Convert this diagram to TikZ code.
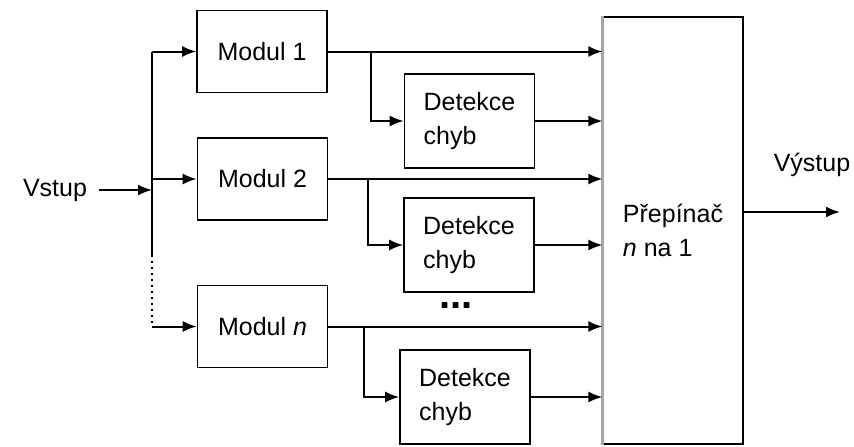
\documentclass[tikz,border=0pt]{standalone}
\usepackage{fontspec}
\setmainfont{Liberation Sans}
\usetikzlibrary{arrows.meta}
\begin{document}
\begin{tikzpicture}[x=0.5pt,y=-0.5pt,
    every node/.style={font=\fontsize{12.5}{17}\selectfont},
    modbox/.style={draw,line width=0.8pt,minimum width=65pt,minimum height=41pt},
    detbox/.style={draw,line width=0.8pt,minimum width=65pt,minimum height=47pt,align=left},
    arr/.style={line width=1pt,-{Latex[length=7pt,width=5.5pt]}}]
            \useasboundingbox (0,0) rectangle (854,446);

            \node (A) at (55,190) {Vstup};
            \node[modbox] (B1) at (262,51.5) {Modul 1};
            \node[modbox] (B2) at (262.5,179) {Modul 2};
            \node[modbox] (B3) at (262.5,326.5) {Modul \textit{n}};
            \node[detbox] (C1) at (469.5,121) {Detekce\\chyb};
            \node[detbox] (C2) at (469,245) {Detekce\\chyb};
            \node[detbox] (C3) at (465,397) {Detekce\\chyb};
            \node[inner sep=0pt] (G) at (456,306) {\fontsize{20}{20}\selectfont\textbf{...}};
            \node[draw,line width=0.6pt,minimum width=70pt,minimum height=213.5pt,align=left] (D) at (673,230.5) {Přepínač\\\textit{n} na 1};
            \node (E) at (812,165) {Výstup};

            % rozvod vstupu
            \coordinate (V) at (152,190);
            \coordinate (V1) at (152,51.5);
            \coordinate (V2) at (152,179);
            \coordinate (V0) at (152,255);
            \coordinate (V3) at (152,326.5);
            % odbocky k detekci
            \coordinate (K1) at (371,51.5);
            \coordinate (K2) at (368,179);
            \coordinate (K3) at (364,326.5);
            \coordinate (F) at (840,212);

            \draw[gray!70,line width=1.5pt] (D.south west) -- (D.north west);

            \draw[arr,shorten <=2.5pt] (A) to (V);
            \draw[line width=1pt] (V1) -- (V0);
            \draw[line width=1pt,dotted] (V0) -- (V3);
            \draw[arr] (V1) to (B1);
            \draw[arr] (V2) to (B2);
            \draw[arr] (V3) to (B3);

            \draw[arr] (B1) to (D.west |- B1);
            \draw[arr] (B2) to (D.west |- B2);
            \draw[arr] (B3) to (D.west |- B3);
            \draw[arr] (K1) |- (C1);
            \draw[arr] (K2) |- (C2);
            \draw[arr] (K3) |- (C3);
            \draw[arr] (C1) to (D.west |- C1);
            \draw[arr] (C2) to (D.west |- C2);
            \draw[arr] (C3) to (D.west |- C3);

            \draw[arr] (D.east |- F) to (F);
\end{tikzpicture}
\end{document}
